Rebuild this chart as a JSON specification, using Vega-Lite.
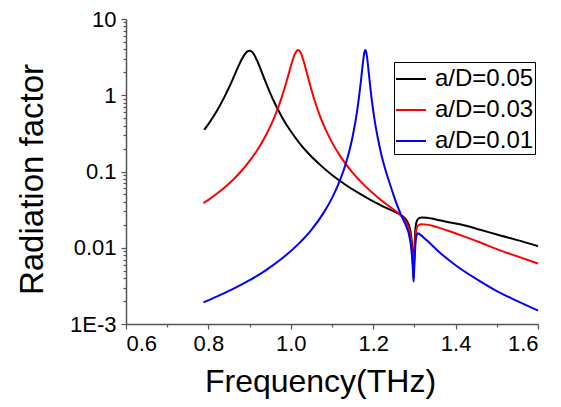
{
  "$schema": "https://vega.github.io/schema/vega-lite/v6.json",
  "width": 412,
  "height": 305,
  "autosize": {"type": "none"},
  "padding": {"left": 126, "top": 19, "right": 23, "bottom": 83},
  "background": "white",
  "config": {
    "view": {"stroke": null},
    "font": "Liberation Sans",
    "axis": {"grid": false, "domainColor": "#555", "domainWidth": 1.5, "tickColor": "#555", "tickWidth": 1.2, "labelColor": "black", "titleColor": "black", "titleFontWeight": "normal", "labelFont": "Liberation Sans", "titleFont": "Liberation Sans"}
  },
  "data": {"values": [
    {"f": 0.79, "v": 0.353, "s": "a/D=0.05"},
    {"f": 0.80, "v": 0.419, "s": "a/D=0.05"},
    {"f": 0.82, "v": 0.617, "s": "a/D=0.05"},
    {"f": 0.84, "v": 0.975, "s": "a/D=0.05"},
    {"f": 0.85, "v": 1.263, "s": "a/D=0.05"},
    {"f": 0.86, "v": 1.665, "s": "a/D=0.05"},
    {"f": 0.87, "v": 2.213, "s": "a/D=0.05"},
    {"f": 0.88, "v": 2.894, "s": "a/D=0.05"},
    {"f": 0.89, "v": 3.55, "s": "a/D=0.05"},
    {"f": 0.895, "v": 3.76, "s": "a/D=0.05"},
    {"f": 0.90, "v": 3.84, "s": "a/D=0.05"},
    {"f": 0.905, "v": 3.74, "s": "a/D=0.05"},
    {"f": 0.91, "v": 3.48, "s": "a/D=0.05"},
    {"f": 0.92, "v": 2.71, "s": "a/D=0.05"},
    {"f": 0.93, "v": 1.98, "s": "a/D=0.05"},
    {"f": 0.94, "v": 1.44, "s": "a/D=0.05"},
    {"f": 0.95, "v": 1.067, "s": "a/D=0.05"},
    {"f": 0.96, "v": 0.809, "s": "a/D=0.05"},
    {"f": 0.97, "v": 0.63, "s": "a/D=0.05"},
    {"f": 0.98, "v": 0.501, "s": "a/D=0.05"},
    {"f": 1.0, "v": 0.337, "s": "a/D=0.05"},
    {"f": 1.02, "v": 0.24, "s": "a/D=0.05"},
    {"f": 1.04, "v": 0.179, "s": "a/D=0.05"},
    {"f": 1.07, "v": 0.124, "s": "a/D=0.05"},
    {"f": 1.10, "v": 0.09, "s": "a/D=0.05"},
    {"f": 1.13, "v": 0.0686, "s": "a/D=0.05"},
    {"f": 1.16, "v": 0.0539, "s": "a/D=0.05"},
    {"f": 1.19, "v": 0.0434, "s": "a/D=0.05"},
    {"f": 1.22, "v": 0.0357, "s": "a/D=0.05"},
    {"f": 1.25, "v": 0.0299, "s": "a/D=0.05"},
    {"f": 1.27, "v": 0.0262, "s": "a/D=0.05"},
    {"f": 1.28, "v": 0.0232, "s": "a/D=0.05"},
    {"f": 1.287, "v": 0.0195, "s": "a/D=0.05"},
    {"f": 1.292, "v": 0.0145, "s": "a/D=0.05"},
    {"f": 1.295, "v": 0.0095, "s": "a/D=0.05"},
    {"f": 1.297, "v": 0.0055, "s": "a/D=0.05"},
    {"f": 1.298, "v": 0.0042, "s": "a/D=0.05"},
    {"f": 1.299, "v": 0.0065, "s": "a/D=0.05"},
    {"f": 1.301, "v": 0.013, "s": "a/D=0.05"},
    {"f": 1.303, "v": 0.019, "s": "a/D=0.05"},
    {"f": 1.306, "v": 0.0225, "s": "a/D=0.05"},
    {"f": 1.31, "v": 0.0242, "s": "a/D=0.05"},
    {"f": 1.318, "v": 0.025, "s": "a/D=0.05"},
    {"f": 1.33, "v": 0.0248, "s": "a/D=0.05"},
    {"f": 1.35, "v": 0.0237, "s": "a/D=0.05"},
    {"f": 1.38, "v": 0.0218, "s": "a/D=0.05"},
    {"f": 1.42, "v": 0.0197, "s": "a/D=0.05"},
    {"f": 1.46, "v": 0.0172, "s": "a/D=0.05"},
    {"f": 1.5, "v": 0.0149, "s": "a/D=0.05"},
    {"f": 1.55, "v": 0.0126, "s": "a/D=0.05"},
    {"f": 1.6, "v": 0.0105, "s": "a/D=0.05"},
    {"f": 0.788, "v": 0.0385, "s": "a/D=0.03"},
    {"f": 0.80, "v": 0.0425, "s": "a/D=0.03"},
    {"f": 0.82, "v": 0.051, "s": "a/D=0.03"},
    {"f": 0.84, "v": 0.0622, "s": "a/D=0.03"},
    {"f": 0.86, "v": 0.078, "s": "a/D=0.03"},
    {"f": 0.88, "v": 0.1015, "s": "a/D=0.03"},
    {"f": 0.90, "v": 0.1375, "s": "a/D=0.03"},
    {"f": 0.92, "v": 0.196, "s": "a/D=0.03"},
    {"f": 0.94, "v": 0.301, "s": "a/D=0.03"},
    {"f": 0.95, "v": 0.387, "s": "a/D=0.03"},
    {"f": 0.96, "v": 0.513, "s": "a/D=0.03"},
    {"f": 0.97, "v": 0.706, "s": "a/D=0.03"},
    {"f": 0.98, "v": 1.018, "s": "a/D=0.03"},
    {"f": 0.99, "v": 1.538, "s": "a/D=0.03"},
    {"f": 1.0, "v": 2.39, "s": "a/D=0.03"},
    {"f": 1.005, "v": 2.94, "s": "a/D=0.03"},
    {"f": 1.01, "v": 3.48, "s": "a/D=0.03"},
    {"f": 1.014, "v": 3.8, "s": "a/D=0.03"},
    {"f": 1.018, "v": 3.92, "s": "a/D=0.03"},
    {"f": 1.022, "v": 3.78, "s": "a/D=0.03"},
    {"f": 1.026, "v": 3.42, "s": "a/D=0.03"},
    {"f": 1.03, "v": 2.95, "s": "a/D=0.03"},
    {"f": 1.035, "v": 2.37, "s": "a/D=0.03"},
    {"f": 1.04, "v": 1.87, "s": "a/D=0.03"},
    {"f": 1.05, "v": 1.18, "s": "a/D=0.03"},
    {"f": 1.06, "v": 0.784, "s": "a/D=0.03"},
    {"f": 1.07, "v": 0.55, "s": "a/D=0.03"},
    {"f": 1.08, "v": 0.403, "s": "a/D=0.03"},
    {"f": 1.10, "v": 0.241, "s": "a/D=0.03"},
    {"f": 1.12, "v": 0.159, "s": "a/D=0.03"},
    {"f": 1.15, "v": 0.0968, "s": "a/D=0.03"},
    {"f": 1.18, "v": 0.0648, "s": "a/D=0.03"},
    {"f": 1.21, "v": 0.0463, "s": "a/D=0.03"},
    {"f": 1.24, "v": 0.0345, "s": "a/D=0.03"},
    {"f": 1.265, "v": 0.0272, "s": "a/D=0.03"},
    {"f": 1.28, "v": 0.0215, "s": "a/D=0.03"},
    {"f": 1.287, "v": 0.0175, "s": "a/D=0.03"},
    {"f": 1.292, "v": 0.0125, "s": "a/D=0.03"},
    {"f": 1.295, "v": 0.0082, "s": "a/D=0.03"},
    {"f": 1.297, "v": 0.0052, "s": "a/D=0.03"},
    {"f": 1.298, "v": 0.004, "s": "a/D=0.03"},
    {"f": 1.299, "v": 0.0055, "s": "a/D=0.03"},
    {"f": 1.301, "v": 0.0105, "s": "a/D=0.03"},
    {"f": 1.303, "v": 0.0153, "s": "a/D=0.03"},
    {"f": 1.306, "v": 0.0185, "s": "a/D=0.03"},
    {"f": 1.31, "v": 0.0198, "s": "a/D=0.03"},
    {"f": 1.318, "v": 0.0203, "s": "a/D=0.03"},
    {"f": 1.33, "v": 0.0201, "s": "a/D=0.03"},
    {"f": 1.35, "v": 0.019, "s": "a/D=0.03"},
    {"f": 1.38, "v": 0.0168, "s": "a/D=0.03"},
    {"f": 1.42, "v": 0.0141, "s": "a/D=0.03"},
    {"f": 1.46, "v": 0.0117, "s": "a/D=0.03"},
    {"f": 1.5, "v": 0.0096, "s": "a/D=0.03"},
    {"f": 1.55, "v": 0.0077, "s": "a/D=0.03"},
    {"f": 1.6, "v": 0.0062, "s": "a/D=0.03"},
    {"f": 0.788, "v": 0.00192, "s": "a/D=0.01"},
    {"f": 0.82, "v": 0.00228, "s": "a/D=0.01"},
    {"f": 0.86, "v": 0.00288, "s": "a/D=0.01"},
    {"f": 0.90, "v": 0.00375, "s": "a/D=0.01"},
    {"f": 0.94, "v": 0.0051, "s": "a/D=0.01"},
    {"f": 0.98, "v": 0.00733, "s": "a/D=0.01"},
    {"f": 1.02, "v": 0.01141, "s": "a/D=0.01"},
    {"f": 1.05, "v": 0.0172, "s": "a/D=0.01"},
    {"f": 1.08, "v": 0.0289, "s": "a/D=0.01"},
    {"f": 1.10, "v": 0.0447, "s": "a/D=0.01"},
    {"f": 1.12, "v": 0.0781, "s": "a/D=0.01"},
    {"f": 1.135, "v": 0.1354, "s": "a/D=0.01"},
    {"f": 1.15, "v": 0.286, "s": "a/D=0.01"},
    {"f": 1.16, "v": 0.574, "s": "a/D=0.01"},
    {"f": 1.165, "v": 0.895, "s": "a/D=0.01"},
    {"f": 1.17, "v": 1.51, "s": "a/D=0.01"},
    {"f": 1.174, "v": 2.38, "s": "a/D=0.01"},
    {"f": 1.177, "v": 3.24, "s": "a/D=0.01"},
    {"f": 1.179, "v": 3.72, "s": "a/D=0.01"},
    {"f": 1.181, "v": 3.92, "s": "a/D=0.01"},
    {"f": 1.183, "v": 3.7, "s": "a/D=0.01"},
    {"f": 1.185, "v": 3.18, "s": "a/D=0.01"},
    {"f": 1.188, "v": 2.29, "s": "a/D=0.01"},
    {"f": 1.192, "v": 1.42, "s": "a/D=0.01"},
    {"f": 1.196, "v": 0.918, "s": "a/D=0.01"},
    {"f": 1.20, "v": 0.628, "s": "a/D=0.01"},
    {"f": 1.205, "v": 0.419, "s": "a/D=0.01"},
    {"f": 1.21, "v": 0.297, "s": "a/D=0.01"},
    {"f": 1.22, "v": 0.165, "s": "a/D=0.01"},
    {"f": 1.23, "v": 0.104, "s": "a/D=0.01"},
    {"f": 1.24, "v": 0.07, "s": "a/D=0.01"},
    {"f": 1.25, "v": 0.048, "s": "a/D=0.01"},
    {"f": 1.26, "v": 0.034, "s": "a/D=0.01"},
    {"f": 1.27, "v": 0.0252, "s": "a/D=0.01"},
    {"f": 1.28, "v": 0.0192, "s": "a/D=0.01"},
    {"f": 1.287, "v": 0.0148, "s": "a/D=0.01"},
    {"f": 1.292, "v": 0.0102, "s": "a/D=0.01"},
    {"f": 1.295, "v": 0.0068, "s": "a/D=0.01"},
    {"f": 1.297, "v": 0.0045, "s": "a/D=0.01"},
    {"f": 1.298, "v": 0.0036, "s": "a/D=0.01"},
    {"f": 1.299, "v": 0.0045, "s": "a/D=0.01"},
    {"f": 1.301, "v": 0.008, "s": "a/D=0.01"},
    {"f": 1.304, "v": 0.0135, "s": "a/D=0.01"},
    {"f": 1.308, "v": 0.0155, "s": "a/D=0.01"},
    {"f": 1.313, "v": 0.015, "s": "a/D=0.01"},
    {"f": 1.33, "v": 0.0125, "s": "a/D=0.01"},
    {"f": 1.36, "v": 0.0088, "s": "a/D=0.01"},
    {"f": 1.40, "v": 0.0059, "s": "a/D=0.01"},
    {"f": 1.45, "v": 0.0039, "s": "a/D=0.01"},
    {"f": 1.5, "v": 0.0027, "s": "a/D=0.01"},
    {"f": 1.55, "v": 0.002, "s": "a/D=0.01"},
    {"f": 1.6, "v": 0.0015, "s": "a/D=0.01"}
  ]},
  "layer": [
    {
      "mark": {"type": "point", "opacity": 0},
      "encoding": {
        "x": {"field": "f", "type": "quantitative", "scale": {"domain": [0.6, 1.6], "nice": false, "zero": false},
          "axis": {"orient": "bottom", "values": [0.7, 0.9, 1.1, 1.3, 1.5], "labels": false, "domain": false, "tickSize": 3, "title": null}},
        "y": {"field": "v", "type": "quantitative", "scale": {"type": "log", "domain": [0.001, 10], "nice": false},
          "axis": {"orient": "left", "values": [0.002,0.003,0.004,0.005,0.006,0.007,0.008,0.009,0.02,0.03,0.04,0.05,0.06,0.07,0.08,0.09,0.2,0.3,0.4,0.5,0.6,0.7,0.8,0.9,2,3,4,5,6,7,8,9], "labels": false, "domain": false, "tickSize": 3, "title": null}}
      }
    },
    {
      "mark": {"type": "line", "strokeWidth": 2, "interpolate": "monotone"},
      "encoding": {
        "x": {"field": "f", "type": "quantitative",
          "axis": {"orient": "bottom", "values": [0.6, 0.8, 1.0, 1.2, 1.4, 1.6], "format": ".1f", "tickSize": 5, "labelFontSize": 22, "labelPadding": 4, "title": "Frequency(THz)", "titleFontSize": 32, "titlePadding": 12, "titleX": 194}},
        "y": {"field": "v", "type": "quantitative",
          "axis": {"orient": "left", "values": [0.001, 0.01, 0.1, 1, 10], "labelExpr": "datum.value < 0.005 ? '1E-3' : format(datum.value, '~g')", "tickSize": 5, "labelFontSize": 22, "labelPadding": 5, "title": "Radiation factor", "titleFontSize": 33, "titlePadding": 20, "titleY": 160}},
        "color": {"field": "s", "type": "nominal", "sort": ["a/D=0.05", "a/D=0.03", "a/D=0.01"],
          "scale": {"domain": ["a/D=0.05", "a/D=0.03", "a/D=0.01"], "range": ["#000000", "#ff0000", "#0000ff"]},
          "legend": {"title": null, "orient": "none", "legendX": 268, "legendY": 43, "strokeColor": "black", "fillColor": "white", "padding": 1, "symbolType": "stroke", "symbolSize": 900, "symbolStrokeWidth": 2, "labelFontSize": 24, "labelOffset": 8, "rowPadding": 3, "labelColor": "black", "labelFont": "Liberation Sans"}}
      }
    }
  ],
  "resolve": {"axis": {"x": "independent", "y": "independent"}}
}
